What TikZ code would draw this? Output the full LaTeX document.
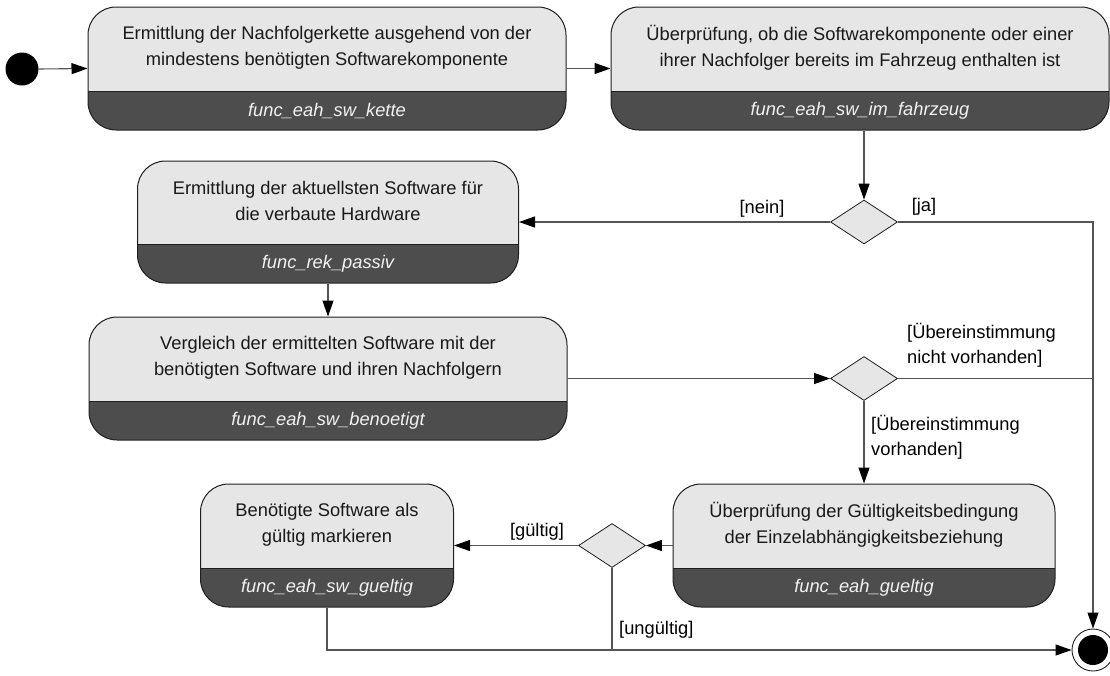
\documentclass[tikz,border=0pt]{standalone}
\usepackage{fontspec}
\setmainfont{Liberation Sans}
\usetikzlibrary{arrows.meta,shapes.geometric,calc}
\definecolor{actfill}{HTML}{E6E6E6}
\definecolor{bandfill}{HTML}{4D4D4D}
\definecolor{bandtext}{HTML}{F2F2F2}
\definecolor{wire}{HTML}{555555}
\definecolor{edge}{HTML}{1F1F1F}
\tikzset{
  act/.style={draw=edge, line width=1pt, fill=actfill, rounded corners=28pt,
    minimum height=123pt, inner sep=0pt,
    path picture={\fill[bandfill, sharp corners]
      (path picture bounding box.south west) rectangle
      ([yshift=39pt]path picture bounding box.south east);
      \draw[edge, line width=0.9pt, sharp corners]
      ([yshift=39pt]path picture bounding box.south west) --
      ([yshift=39pt]path picture bounding box.south east);}},
  acttext/.style={align=center, font=\fontsize{18.3}{26}\selectfont, text=black!90, inner sep=0pt},
  fntext/.style={font=\fontsize{18.3}{22}\selectfont\itshape, text=bandtext, inner sep=0pt},
  decision/.style={diamond, draw=edge, line width=0.8pt, fill=actfill, inner sep=0pt,
    minimum width=67pt, minimum height=44pt},
  guard/.style={font=\fontsize{18.3}{25.5}\selectfont, align=left, inner sep=0pt},
  wireline/.style={draw=wire, line width=1.1pt},
  flow/.style={wireline, -{Triangle[length=16pt, width=11pt, fill=black, color=black]}},
}
\begin{document}
\begin{tikzpicture}[x=1pt, y=-1pt]
\useasboundingbox (0,0) rectangle (1110,675);

% initial and final states
\node[circle, fill=black, minimum size=33pt, inner sep=0pt] (start) at (22,69) {};
\node[circle, draw=edge, line width=0.9pt, fill=white, minimum size=42pt, inner sep=0pt] (stop) at (1093,650) {};
\fill[black] (stop.center) circle (15pt);

% activities
\node[act, minimum width=478pt] (a1) at (327,68.5) {};
\node[acttext] (a1t) at ([yshift=-41pt]a1.north) {Ermittlung der Nachfolgerkette ausgehend von der\\mindestens benötigten Softwarekomponente};
\node[fntext] (a1f) at ([yshift=19.5pt]a1.south) {func\_eah\_sw\_kette};

\node[act, minimum width=498pt] (a2) at (860,68.5) {};
\node[acttext] (a2t) at ([yshift=-41pt]a2.north) {Überprüfung, ob die Softwarekomponente oder einer\\ihrer Nachfolger bereits im Fahrzeug enthalten ist};
\node[fntext] (a2f) at ([yshift=19.5pt]a2.south) {func\_eah\_sw\_im\_fahrzeug};

\node[act, minimum width=381pt, minimum height=122pt] (a3) at (328,222) {};
\node[acttext] (a3t) at ([yshift=-40.5pt]a3.north) {Ermittlung der aktuellsten Software für\\die verbaute Hardware};
\node[fntext] (a3f) at ([yshift=19.5pt]a3.south) {func\_rek\_passiv};

\node[act, minimum width=478pt] (a4) at (328,378.5) {};
\node[acttext] (a4t) at ([yshift=-41pt]a4.north) {Vergleich der ermittelten Software mit der\\benötigten Software und ihren Nachfolgern};
\node[fntext] (a4f) at ([yshift=19.5pt]a4.south) {func\_eah\_sw\_benoetigt};

\node[act, minimum width=382pt] (a5) at (864,545.5) {};
\node[acttext] (a5t) at ([yshift=-41pt]a5.north) {Überprüfung der Gültigkeitsbedingung\\der Einzelabhängigkeitsbeziehung};
\node[fntext] (a5f) at ([yshift=19.5pt]a5.south) {func\_eah\_gueltig};

\node[act, minimum width=253pt] (a6) at (327,545.5) {};
\node[acttext] (a6t) at ([yshift=-41pt]a6.north) {Benötigte Software als\\gültig markieren};
\node[fntext] (a6f) at ([yshift=19.5pt]a6.south) {func\_eah\_sw\_gueltig};

% decisions
\node[decision] (d1) at (864,222) {};
\node[decision] (d2) at (864,378.5) {};
\node[decision] (d3) at (612,545.5) {};

% connectors
\draw[flow] (start.east) -- (a1.west);
\draw[flow] (a1.east) -- (a2.west);
\draw[flow] (d1.north |- a2.south) -- (d1.north);
\draw[flow] (d1.west) -- (a3.east);
\draw[flow] (d1.east) -- (d1.east -| stop.north) -- (stop.north);
\draw[flow] (a3.south) -- (a4.north);
\draw[flow] (a4.east) -- (d2.west);
\draw[wireline] (d2.east) -- (d2.east -| stop.north);
\draw[flow] (d2.south) -- (a5.north);
\draw[flow] (a5.west) -- (d3.east);
\draw[flow] (d3.west) -- (a6.east);
\draw[wireline] (d3.south) -- (d3.south |- stop.west);
\draw[flow] (a6.south) -- (a6.south |- stop.west) -- (stop.west);

% guards
\node[guard] (gnein) at (762,209) {[nein]};
\node[guard] (gja) at (924,207) {[ja]};
\node[guard, anchor=west] (gnv) at (907,345) {[Übereinstimmung\\nicht vorhanden]};
\node[guard, anchor=west] (gv) at (871,437) {[Übereinstimmung\\vorhanden]};
\node[guard] (gg) at (537,532) {[gültig]};
\node[guard, anchor=west] (gu) at (619,630) {[ungültig]};
\end{tikzpicture}
\end{document}
